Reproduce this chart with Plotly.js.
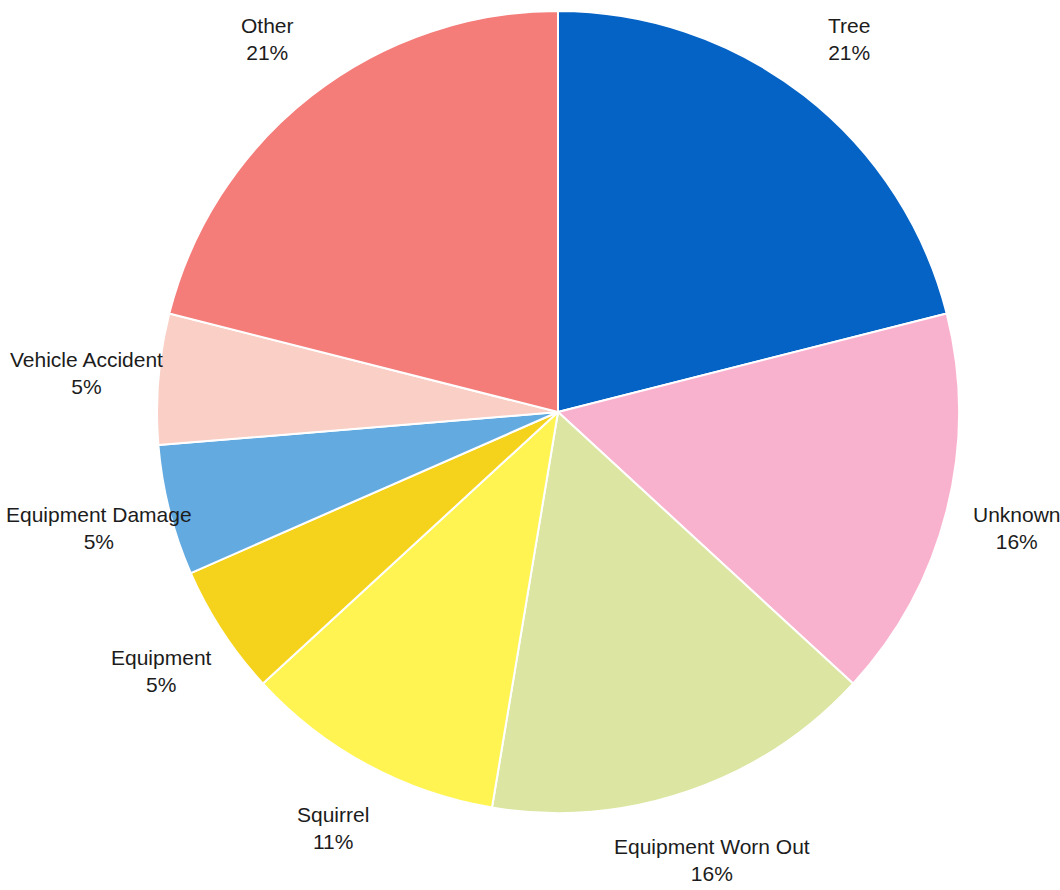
<!DOCTYPE html>
<html>
<head>
<meta charset="utf-8">
<script src="https://cdn.plot.ly/plotly-3.0.1.min.js"></script>
<style>html,body{margin:0;padding:0;background:#fff;}#chart{width:1060px;height:890px;}</style>
</head>
<body>
<div id="chart"></div>
<script>
// Data (counts; percentages shown are rounded)
const categories = ["Tree", "Unknown", "Equipment Worn Out", "Squirrel", "Equipment", "Equipment Damage", "Vehicle Accident", "Other"];
const counts = [4, 3, 3, 2, 1, 1, 1, 4];
const colors = ["#0563C6", "#F9B2CE", "#DCE6A2", "#FFF452", "#F5D31C", "#62AAE0", "#F9CFC6", "#F47C79"];

const W = 1060, H = 890;
const domX = [157 / W, 959 / W];
const domY = [1 - 813 / H, 1 - 11 / H];
const cx = (domX[0] + domX[1]) / 2;
const cy = (domY[0] + domY[1]) / 2;
const Rpx = 401;
const labelR = 1.18 * Rpx;

const total = counts.reduce((a, b) => a + b, 0);
let cum = 0;
const annotations = categories.map((c, i) => {
  const mid = (cum + counts[i] / 2) / total * 2 * Math.PI;
  cum += counts[i];
  const pct = Math.round(counts[i] / total * 100);
  return {
    xref: "paper", yref: "paper",
    x: cx + labelR * Math.sin(mid) / W,
    y: cy + labelR * Math.cos(mid) / H,
    xanchor: "center", yanchor: "middle",
    text: c + "<br>" + pct + "%",
    showarrow: false,
    font: {family: "Liberation Sans, Arial, sans-serif", size: 21, color: "#1c1c1c"}
  };
});

const trace = {
  type: "pie",
  labels: categories,
  values: counts,
  sort: false,
  direction: "clockwise",
  rotation: 0,
  marker: {colors: colors, line: {color: "#ffffff", width: 2}},
  textinfo: "none",
  hoverinfo: "label+percent",
  domain: {x: domX, y: domY},
  showlegend: false
};

const layout = {
  width: W, height: H,
  margin: {l: 0, r: 0, t: 0, b: 0},
  paper_bgcolor: "#ffffff",
  showlegend: false,
  annotations: annotations
};

Plotly.newPlot("chart", [trace], layout, {displayModeBar: false, staticPlot: true});
</script>
</body>
</html>
